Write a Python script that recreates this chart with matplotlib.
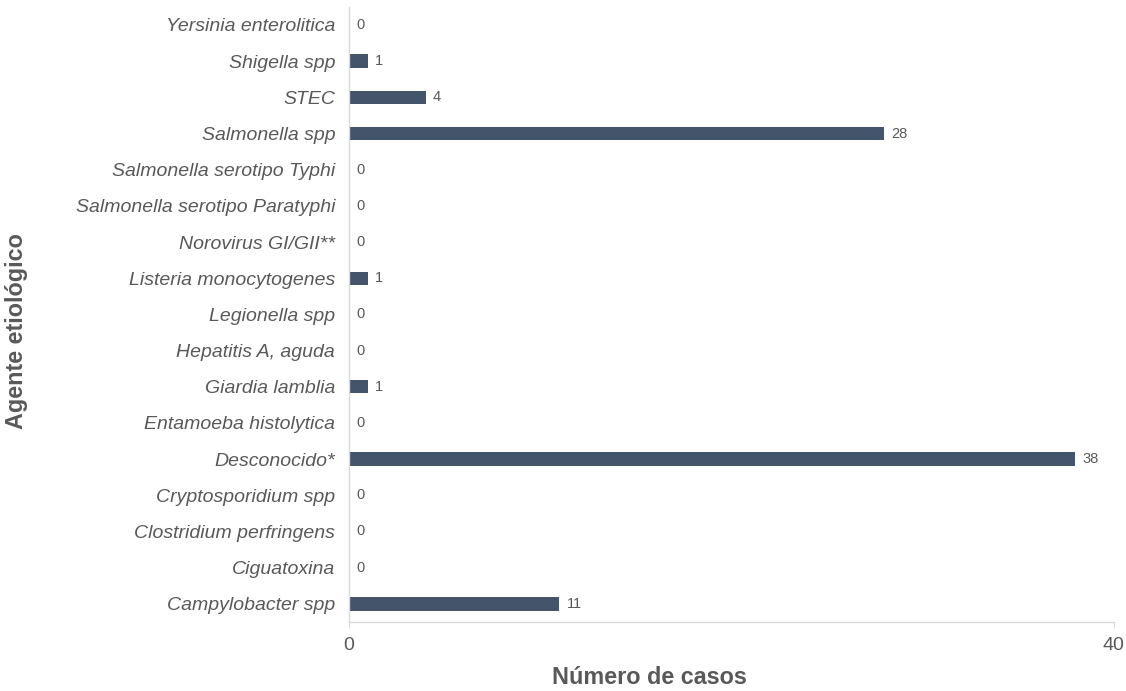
import matplotlib
matplotlib.use("Agg")
import matplotlib.pyplot as plt

# ── Data ─────────────────────────────────────────────────────
agents = [
    "Campylobacter spp", "Ciguatoxina", "Clostridium perfringens",
    "Cryptosporidium spp", "Desconocido*", "Entamoeba histolytica",
    "Giardia lamblia", "Hepatitis A, aguda", "Legionella spp",
    "Listeria monocytogenes", "Norovirus GI/GII**",
    "Salmonella serotipo Paratyphi", "Salmonella serotipo Typhi",
    "Salmonella spp", "STEC", "Shigella spp", "Yersinia enterolitica",
]
cases = [11, 0, 0, 0, 38, 0, 1, 0, 0, 1, 0, 0, 0, 28, 4, 1, 0]
x_ticks = [0, 40]

BAR_COLOR  = "#44546A"
TEXT_COLOR = "#595959"
AXIS_COLOR = "#D9D9D9"

plt.rcParams["font.family"] = ["Liberation Sans", "DejaVu Sans"]

fig = plt.figure(figsize=(11.26, 6.91), dpi=100)
ax = fig.add_axes([0.31, 0.10, 0.679, 0.89])

ypos = list(range(len(agents)))
bars = ax.barh(ypos, cases, height=0.37, color=BAR_COLOR)

# value labels next to each bar
for bar, val in zip(bars, cases):
    ax.text(bar.get_width() + 0.37, bar.get_y() + bar.get_height() / 2,
            f"{val}", va="center", ha="left", fontsize=10.5, color=TEXT_COLOR)

ax.set_yticks(ypos)
ax.set_yticklabels(agents, fontsize=14, style="italic", color=TEXT_COLOR)
ax.set_xticks(x_ticks)
ax.set_xticklabels([str(t) for t in x_ticks], fontsize=14, color=TEXT_COLOR)
ax.set_xlim(0, 40)
ax.set_ylim(-0.5, 16.5)

ax.spines[["top", "right"]].set_visible(False)
for side in ["left", "bottom"]:
    ax.spines[side].set_color(AXIS_COLOR)
    ax.spines[side].set_linewidth(1.0)
ax.tick_params(axis="y", length=0, pad=10)
ax.tick_params(axis="x", length=4, color=AXIS_COLOR, pad=7)

ax.set_xlabel("Número de casos", fontsize=16.8, fontweight="bold",
              color=TEXT_COLOR)
ax.xaxis.label.set_verticalalignment("baseline")
ax.xaxis.set_label_coords(0.3927, -0.1015)
ax.set_ylabel("Agente etiológico", fontsize=16.8, fontweight="bold",
              color=TEXT_COLOR)
ax.yaxis.set_label_coords(-0.420, 0.473)

fig.savefig("out.png", dpi=100)
